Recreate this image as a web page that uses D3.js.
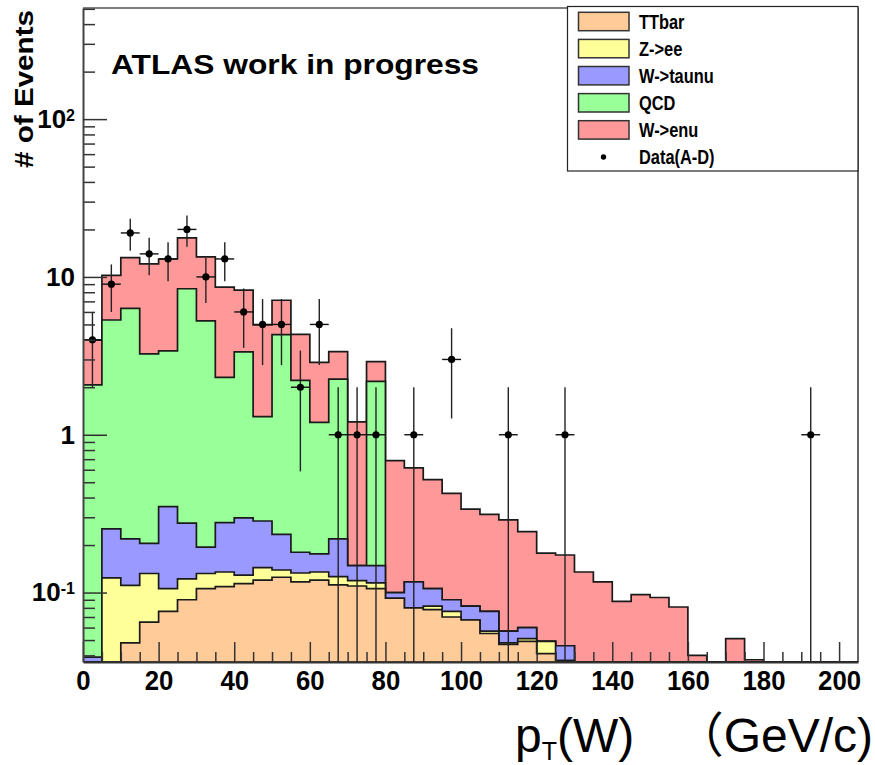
<!DOCTYPE html>
<html>
<head>
<meta charset="utf-8">
<script src="https://cdn.jsdelivr.net/npm/d3@7"></script>
<style>
  body { margin: 0; background: #fff; }
  svg { display: block; }
</style>
</head>
<body>
<script>
// pT(W) spectrum, 5 GeV/c bins from 0 to 205 GeV/c
const binWidth = 5;
const binLow = d3.range(0, 205, binWidth);

// Expected events per bin for each sample (stacked bottom to top)
const ttbar  = [0, 0, 0.048, 0.065, 0.076, 0.090, 0.106, 0.109, 0.114, 0.120,
                0.125, 0.117, 0.120, 0.112, 0.110, 0.106, 0.092, 0.080, 0.078, 0.070,
                0.067, 0.055, 0.047, 0.049, 0.041, 0.037, 0, 0, 0, 0,
                0, 0, 0, 0, 0, 0, 0, 0, 0, 0, 0];
const zee    = [0, 0.124, 0.063, 0.067, 0.030, 0.032, 0.026, 0.026, 0.015, 0.024,
                0.014, 0.016, 0.015, 0.014, 0.009, 0.009, 0, 0, 0.004, 0.006,
                0, 0.002, 0.001, 0.002, 0.008, 0, 0, 0, 0, 0,
                0, 0, 0, 0, 0, 0, 0, 0, 0, 0, 0];
const wtaunu = [0.039, 0.129, 0.108, 0.073, 0.244, 0.153, 0.062, 0.142, 0.168, 0.140,
                0.095, 0.047, 0.041, 0.093, 0.029, 0.033, 0.008, 0.037, 0.024, 0.014,
                0.015, 0.019, 0.009, 0.009, 0, 0.009, 0, 0, 0, 0,
                0, 0, 0, 0, 0, 0, 0, 0, 0, 0, 0];
const qcd    = [2.03, 5.08, 6.10, 3.05, 3.05, 8.14, 5.08, 2.03, 3.05, 1.02,
                4.07, 2.03, 1.02, 2.03, 0, 2.03, 0, 0, 0, 0,
                0, 0, 0, 0, 0, 0, 0, 0, 0, 0,
                0, 0, 0, 0, 0, 0, 0, 0, 0, 0, 0];
const wenu   = [1.90, 4.89, 6.95, 8.84, 9.59, 9.28, 8.12, 6.32, 4.90, 3.66,
                2.81, 2.12, 1.68, 1.11, 1.06, 0.73, 0.585, 0.499, 0.413, 0.335,
                0.256, 0.237, 0.232, 0.183, 0.129, 0.127, 0.135, 0.117, 0.088, 0.097,
                0.093, 0.081, 0.040, 0, 0.051, 0.0375, 0, 0, 0, 0, 0];

// Observed events per bin
const dataCounts = [4, 9, 19, 14, 13, 20, 10, 13, 6, 5,
                    5, 2, 5, 1, 1, 1, 0, 1, 0, 3,
                    0, 0, 1, 0, 0, 1, 0, 0, 0, 0,
                    0, 0, 0, 0, 0, 0, 0, 0, 1, 0, 0];

const stackKeys    = ['ttbar', 'zee', 'wtaunu', 'qcd', 'wenu'];
const seriesNames  = ['TTbar', 'Z->ee', 'W->taunu', 'QCD', 'W->enu'];
const seriesColors = ['#ffcc99', '#ffff99', '#9999ff', '#99ff99', '#ff9999'];
const dataName = 'Data(A-D)';

// Axis ticks and labels
const xLabelTicks = d3.range(0, 201, 20);
const xMinorTicks = d3.range(5, 205, 5).filter(v => v % 20 !== 0);
const yDecades = [0.1, 1, 10, 100];
const yDecadeLabels = [['10', '-1'], ['1', ''], ['10', ''], ['10', '2']];

const W = 875, H = 765;
const plot = { left: 83, right: 858, top: 8, bottom: 662 };

const svg = d3.select('body').append('svg')
  .attr('width', W).attr('height', H)
  .attr('viewBox', `0 0 ${W} ${H}`);

const x = d3.scaleLinear().domain([0, 205]).range([plot.left, plot.right]);
const y = d3.scaleLog().domain([0.0363, 506]).range([plot.bottom, plot.top]).clamp(true);
const yMin = y.domain()[0];

svg.append('defs').append('clipPath').attr('id', 'frame')
  .append('rect')
  .attr('x', plot.left).attr('y', plot.top)
  .attr('width', plot.right - plot.left).attr('height', plot.bottom - plot.top);

const area = svg.append('g').attr('clip-path', 'url(#frame)');

// Stacked histograms: cumulative step outlines, largest first
const table = binLow.map((lo, i) => ({
  lo, ttbar: ttbar[i], zee: zee[i], wtaunu: wtaunu[i], qcd: qcd[i], wenu: wenu[i]
}));
const layers = d3.stack().keys(stackKeys)(table);

const stepLine = d3.line()
  .x(p => x(p[0]))
  .y(p => y(Math.max(p[1], yMin)));

function stepPoints(layer) {
  const pts = [[binLow[0], yMin]];
  layer.forEach(d => {
    pts.push([d.data.lo, d[1]]);
    pts.push([d.data.lo + binWidth, d[1]]);
  });
  pts.push([binLow[binLow.length - 1] + binWidth, yMin]);
  return pts;
}

area.selectAll('path.layer')
  .data(layers.slice().reverse())
  .join('path')
  .attr('class', 'layer')
  .attr('d', l => stepLine(stepPoints(l)) + 'Z')
  .attr('fill', l => seriesColors[l.index])
  .attr('stroke', '#1a1a1a')
  .attr('stroke-width', 1.7)
  .attr('stroke-linejoin', 'miter');

// Data points with Poisson error bars
const points = binLow.map((lo, i) => ({ lo, n: dataCounts[i] })).filter(d => d.n > 0);
const dataG = area.append('g');
dataG.selectAll('line.ey')
  .data(points).join('line')
  .attr('class', 'ey')
  .attr('x1', d => x(d.lo + binWidth / 2)).attr('x2', d => x(d.lo + binWidth / 2))
  .attr('y1', d => y(Math.max(d.n - Math.sqrt(d.n), yMin)))
  .attr('y2', d => y(d.n + Math.sqrt(d.n)))
  .attr('stroke', '#222').attr('stroke-width', 1.4);
dataG.selectAll('line.ex')
  .data(points).join('line')
  .attr('class', 'ex')
  .attr('x1', d => x(d.lo)).attr('x2', d => x(d.lo + binWidth))
  .attr('y1', d => y(d.n)).attr('y2', d => y(d.n))
  .attr('stroke', '#111').attr('stroke-width', 1.4);
dataG.selectAll('circle')
  .data(points).join('circle')
  .attr('cx', d => x(d.lo + binWidth / 2))
  .attr('cy', d => y(d.n))
  .attr('r', 3.6)
  .attr('fill', '#000');

// Frame (top and right)
svg.append('path')
  .attr('d', `M${plot.left},${plot.top}H${plot.right}V${plot.bottom}`)
  .attr('fill', 'none').attr('stroke', '#000').attr('stroke-width', 1.2);

const boldFont = '"Liberation Sans", Arial, Helvetica, sans-serif';

// X axis: minor ticks every 5, labelled ticks every 20
const gxMinor = svg.append('g').attr('transform', `translate(0,${plot.bottom})`)
  .call(d3.axisBottom(x).tickValues(xMinorTicks).tickSize(-10).tickFormat(''));
gxMinor.select('.domain').remove();
const gx = svg.append('g').attr('transform', `translate(0,${plot.bottom})`)
  .call(d3.axisBottom(x).tickValues(xLabelTicks).tickSizeInner(-20).tickSizeOuter(0)
        .tickPadding(8.5).tickFormat(d3.format('d')));
gx.select('.domain').attr('stroke', '#333').attr('stroke-width', 2);
gx.selectAll('.tick text')
  .attr('font-family', boldFont).attr('font-weight', 'bold').attr('font-size', 28)
  .attr('fill', '#000')
  .attr('transform', 'scale(0.92,1)');

// Y axis: decade ticks with labels, minor ticks at 2..9 x 10^k
const yMinorTicks = y.ticks().filter(v => !yDecades.some(d => Math.abs(v - d) < d * 1e-6));
const gyMinor = svg.append('g').attr('transform', `translate(${plot.left},0)`)
  .call(d3.axisLeft(y).tickValues(yMinorTicks).tickSize(-12).tickFormat(''));
gyMinor.select('.domain').remove();
const gy = svg.append('g').attr('transform', `translate(${plot.left},0)`)
  .call(d3.axisLeft(y).tickValues(yDecades).tickSizeInner(-24).tickSizeOuter(0)
        .tickPadding(8).tickFormat(''));
gy.select('.domain').attr('stroke', '#444').attr('stroke-width', 2);
gy.selectAll('.tick text').each(function (d, i) {
  const t = d3.select(this)
    .attr('font-family', boldFont).attr('font-weight', 'bold').attr('font-size', 26)
    .attr('fill', '#000');
  const [base, exp] = yDecadeLabels[i];
  t.append('tspan').text(base);
  if (exp) t.append('tspan').attr('dy', '-0.45em').attr('font-size', 16).text(exp);
});
[gxMinor, gx, gyMinor, gy].forEach(g =>
  g.selectAll('.tick line').attr('stroke', '#333').attr('stroke-width', 1.5));

// Titles
svg.append('text')
  .attr('x', 111).attr('y', 73.5)
  .attr('font-family', boldFont).attr('font-weight', 'bold').attr('font-size', 28)
  .attr('textLength', 368).attr('lengthAdjust', 'spacingAndGlyphs')
  .text('ATLAS work in progress');

svg.append('text')
  .attr('transform', 'translate(33,168) rotate(-90)')
  .attr('font-family', boldFont).attr('font-weight', 'bold').attr('font-size', 25)
  .attr('textLength', 158).attr('lengthAdjust', 'spacingAndGlyphs')
  .text('# of Events');

const xt = svg.append('text')
  .attr('x', 515).attr('y', 752)
  .attr('font-family', '"Liberation Sans", Arial, Helvetica, sans-serif')
  .attr('font-size', 48).attr('fill', '#000');
xt.append('tspan').text('p');
xt.append('tspan').attr('font-size', 25).attr('dy', 8).text('T');
xt.append('tspan').attr('dy', -8).text('(W)');
svg.append('text')
  .attr('x', 873).attr('y', 752).attr('text-anchor', 'end')
  .attr('font-family', '"Liberation Sans", Arial, "Noto Sans CJK SC", sans-serif')
  .attr('font-size', 48).attr('fill', '#000')
  .text('（GeV/c)');

// Legend
const lg = svg.append('g');
lg.append('rect')
  .attr('x', 567.5).attr('y', 6.5).attr('width', 290.5).attr('height', 164.5)
  .attr('fill', '#fff').attr('stroke', '#222').attr('stroke-width', 1.2);
const entries = seriesNames.map((name, i) => ({ name, color: seriesColors[i] }))
  .concat([{ name: dataName, color: null }]);
const rowY = i => 21.5 + 27.1 * i;
const rows = lg.selectAll('g.entry').data(entries).join('g').attr('class', 'entry');
rows.filter(d => d.color)
  .append('rect')
  .attr('x', 578.5).attr('y', (d, i) => rowY(i) - 9.2)
  .attr('width', 50.5).attr('height', 18.4)
  .attr('fill', d => d.color).attr('stroke', '#333').attr('stroke-width', 1.5);
rows.filter(d => !d.color)
  .append('circle')
  .attr('cx', 603.5).attr('cy', rowY(entries.length - 1)).attr('r', 2.7).attr('fill', '#000');
rows.append('text')
  .attr('transform', (d, i) => `translate(639,${rowY(i) + 7.4}) scale(0.82,1)`)
  .attr('font-family', boldFont).attr('font-weight', 'bold').attr('font-size', 20)
  .attr('fill', '#000')
  .text(d => d.name);
</script>
</body>
</html>
